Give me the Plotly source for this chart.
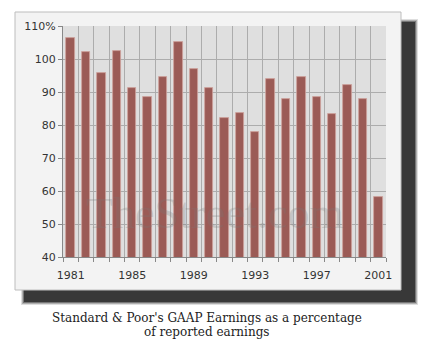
import plotly.graph_objects as go

years = list(range(1981, 2002))
gaap_pct = [106.5, 102.1, 95.8, 102.4, 91.3, 88.4, 94.5, 105.2, 97.1, 91.3,
            82.0, 83.7, 78.0, 93.9, 87.8, 94.5, 88.4, 83.4, 92.2, 87.8, 58.1]
y_ticks = [40, 50, 60, 70, 80, 90, 100, 110]
y_ticktext = ["40", "50", "60", "70", "80", "90", "100", "110%"]
x_ticks = [1981, 1985, 1989, 1993, 1997, 2001]
caption_lines = ["Standard &amp; Poor's GAAP Earnings as a percentage", "of reported earnings"]
watermark = "TheStreet.com"

W, H = 432, 343
L, R, T, B = 63, 386, 26, 257

def px(x):
    return (x - L) / (R - L)

def py(y):
    return (B - y) / (B - T)

fig = go.Figure()
fig.add_trace(go.Bar(
    x=years, y=gaap_pct, width=0.55,
    marker=dict(color="#9b5b56", line=dict(color="#cfa19c", width=0.8)),
    hoverinfo="x+y",
))

shapes = []
# blurred drop shadow
for op, grow in [(0.15, 3), (0.25, 2), (0.4, 1), (0.75, 0)]:
    shapes.append(dict(type="rect", xref="paper", yref="paper", layer="below",
                       x0=px(24 - grow), x1=px(415 + grow), y0=py(22 - grow), y1=py(302 + grow),
                       fillcolor=f"rgba(35,35,35,{op})", line=dict(width=0)))
# panel
shapes.append(dict(type="rect", xref="paper", yref="paper", layer="below",
                   x0=px(15), x1=px(401), y0=py(12), y1=py(290),
                   fillcolor="#f3f3f3", line=dict(color="#bdbdbd", width=1)))
shapes.append(dict(type="rect", xref="paper", yref="paper", layer="below",
                   x0=0, x1=1, y0=0, y1=1,
                   fillcolor="#dfdfdf", line=dict(width=0)))

annotations = [
    dict(text=watermark, xref="paper", yref="paper", x=px(215), y=py(240),
         showarrow=False, font=dict(family="Liberation Serif", size=44, color="rgba(120,120,120,0.25)")),
]
for i, line in enumerate(caption_lines):
    annotations.append(dict(text=line, xref="paper", yref="paper", x=px(207), y=py(318 + 14 * i),
                            xanchor="center", yanchor="middle", showarrow=False,
                            font=dict(family="DejaVu Serif", size=12, color="#222222")))

fig.update_layout(
    width=W, height=H,
    margin=dict(l=L, r=W - R, t=T, b=H - B),
    paper_bgcolor="white", plot_bgcolor="rgba(0,0,0,0)",
    showlegend=False, bargap=0,
    shapes=shapes,
    font=dict(family="DejaVu Sans", size=11, color="#333333"),
    xaxis=dict(
        range=[1980.5, 2001.5], tickvals=x_ticks, ticktext=[str(v) for v in x_ticks],
        showgrid=False, ticks="", tickfont=dict(size=11, color="#333333"),
        ticklabelstandoff=8,
        showline=True, linecolor="#888888", linewidth=1,
        minor=dict(tick0=1980.5, dtick=1, showgrid=True, gridcolor="#acacac", gridwidth=1,
                   ticks="outside", ticklen=4, tickcolor="#888888"),
        zeroline=False, fixedrange=True,
    ),
    yaxis=dict(
        range=[40, 110], tickvals=y_ticks, ticktext=y_ticktext,
        showgrid=True, gridcolor="#acacac", gridwidth=1,
        ticks="outside", ticklen=4, tickcolor="#888888",
        showline=True, linecolor="#888888", linewidth=1,
        tickfont=dict(size=11, color="#333333"), zeroline=False, fixedrange=True,
    ),
    annotations=annotations,
)

fig.write_html("out.html")
